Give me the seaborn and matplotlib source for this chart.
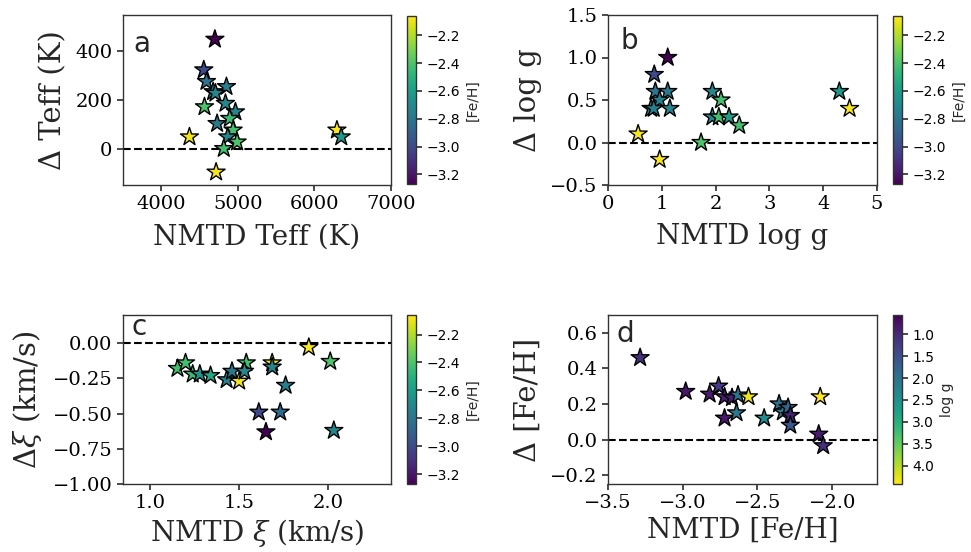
import numpy as np
import pandas as pd
import matplotlib
matplotlib.use("Agg")
import matplotlib.pyplot as plt
import seaborn as sns
from matplotlib.colors import Normalize
from matplotlib.cm import ScalarMappable

# ---- Panel a: NMTD Teff vs Delta Teff, colour = [Fe/H]
teff_nmtd = [4700, 4555, 4590, 4677, 4851, 4707, 4564, 4838, 4968, 4894,
             4729, 4938, 4868, 4990, 4816, 4368, 4716, 6294, 6350]
teff_delta = [450, 324, 276, 234, 255, 228, 172, 186, 151, 124,
              103, 76, 48, 27, 0, 48, -97, 76, 48]
teff_feh = [-3.27, -3.0, -2.8, -2.75, -2.75, -2.72, -2.4, -2.7, -2.72, -2.45,
            -2.78, -2.42, -2.7, -2.4, -2.42, -2.08, -2.08, -2.07, -2.63]

# ---- Panel b: NMTD log g vs Delta log g, colour = [Fe/H]
logg_nmtd = [1.11, 0.86, 0.88, 1.11, 0.96, 0.80, 0.85, 1.15, 0.56, 0.96,
             1.73, 1.94, 2.10, 1.94, 2.06, 2.25, 2.44, 4.30, 4.49]
logg_delta = [1.0, 0.8, 0.6, 0.6, 0.5, 0.4, 0.4, 0.4, 0.1, -0.2,
              0.0, 0.6, 0.5, 0.3, 0.3, 0.3, 0.2, 0.6, 0.4]
logg_feh = [-3.27, -3.0, -2.8, -2.78, -2.75, -2.72, -2.75, -2.72, -2.08, -2.07,
            -2.4, -2.7, -2.42, -2.72, -2.42, -2.6, -2.42, -2.63, -2.07]

# ---- Panel c: NMTD xi vs Delta xi, colour = [Fe/H]
xi_nmtd = [1.155, 1.20, 1.24, 1.28, 1.34, 1.43, 1.46, 1.50, 1.54, 1.53,
           1.685, 1.685, 1.76, 1.61, 1.73, 1.65, 1.89, 2.01, 2.03]
xi_delta = [-0.18, -0.14, -0.22, -0.22, -0.23, -0.26, -0.20, -0.27, -0.14, -0.20,
            -0.14, -0.17, -0.30, -0.49, -0.49, -0.63, -0.03, -0.13, -0.62]
xi_feh = [-2.42, -2.42, -2.45, -2.65, -2.55, -2.72, -2.78, -2.08, -2.42, -2.7,
          -2.08, -2.72, -2.75, -3.0, -2.85, -3.27, -2.07, -2.4, -2.72]

# ---- Panel d: NMTD [Fe/H] vs Delta [Fe/H], colour = log g
feh_nmtd = [-3.285, -2.98, -2.82, -2.76, -2.72, -2.72, -2.67, -2.63, -2.64, -2.56,
            -2.455, -2.355, -2.33, -2.295, -2.28, -2.28, -2.09, -2.06, -2.08]
feh_delta = [0.46, 0.27, 0.255, 0.30, 0.24, 0.12, 0.235, 0.25, 0.15, 0.24,
             0.12, 0.20, 0.155, 0.18, 0.135, 0.08, 0.03, -0.035, 0.24]
feh_logg = [1.1, 0.8, 0.85, 1.2, 0.9, 0.8, 0.85, 2.0, 2.1, 4.3,
            2.4, 1.95, 2.1, 1.9, 0.95, 1.6, 0.85, 1.1, 4.42]

feh_ticks = [-2.2, -2.4, -2.6, -2.8, -3.0, -3.2]
logg_ticks = [1.0, 1.5, 2.0, 2.5, 3.0, 3.5, 4.0]

sns.set_theme(style="ticks")
plt.rcParams["font.family"] = ["DejaVu Serif"]
plt.rcParams["mathtext.fontset"] = "dejavuserif"
plt.rcParams["axes.edgecolor"] = "#333333"
plt.rcParams["xtick.color"] = "#333333"
plt.rcParams["ytick.color"] = "#333333"
plt.rcParams["xtick.labelcolor"] = "black"
plt.rcParams["ytick.labelcolor"] = "black"
plt.rcParams["axes.linewidth"] = 1.0

W, H = 971, 552
fig = plt.figure(figsize=(W / 100, H / 100), dpi=100)


def box(x0, y0, x1, y1):
    return [x0 / W, 1 - y1 / H, (x1 - x0) / W, (y1 - y0) / H]


ax_a = fig.add_axes(box(123, 15, 391, 185))
ax_b = fig.add_axes(box(608, 15, 877, 185))
ax_c = fig.add_axes(box(123, 315, 391, 484))
ax_d = fig.add_axes(box(608, 315, 877, 484))
cax_a = fig.add_axes(box(407, 16, 416, 184))
cax_b = fig.add_axes(box(893, 16, 902, 184))
cax_c = fig.add_axes(box(407, 315, 416, 484))
cax_d = fig.add_axes(box(893, 315, 902, 484))

feh_norm = (-3.27, -2.06)
logg_norm = (0.56, 4.42)


def panel(ax, x, y, c, norm, letter, lx, ly, xlabel, ylabel, xpad):
    ax.axhline(0, ls="--", color="black", lw=1.5, zorder=1)
    df = pd.DataFrame({"x": x, "y": y, "c": c})
    sns.scatterplot(data=df, x="x", y="y", hue="c", palette="viridis",
                    hue_norm=norm, marker="*", s=185, edgecolor="black",
                    linewidth=1.0, legend=False, ax=ax, zorder=3)
    ax.text(lx, ly, letter, transform=ax.transAxes, fontsize=20,
            family="DejaVu Sans", va="baseline", ha="left")
    ax.set_xlabel(xlabel, fontsize=20, labelpad=xpad)
    ax.set_ylabel(ylabel, fontsize=21, labelpad=6)
    ax.tick_params(labelsize=14, length=4)


def cbar(cax, norm, ticks, label, invert=False):
    sm = ScalarMappable(norm=Normalize(*norm), cmap="viridis")
    cb = fig.colorbar(sm, cax=cax, ticks=ticks)
    cb.ax.tick_params(labelsize=10, length=4)
    for t in cb.ax.get_yticklabels():
        t.set_family("DejaVu Sans")
    cb.set_label(label, fontsize=10, family="DejaVu Sans")
    cb.outline.set_edgecolor("#333333")
    if invert:
        cb.ax.invert_yaxis()
    return cb


panel(ax_a, teff_nmtd, teff_delta, teff_feh, feh_norm, "a", 0.04, 0.78,
      "NMTD Teff (K)", "Δ Teff (K)", 7)
ax_a.set_xlim(3500, 7000)
ax_a.set_ylim(-150, 550)
ax_a.set_xticks([4000, 5000, 6000, 7000])
ax_a.set_yticks([0, 200, 400])

panel(ax_b, logg_nmtd, logg_delta, logg_feh, feh_norm, "b", 0.045, 0.80,
      "NMTD log g", "Δ log g", 7)
ax_b.set_xlim(0, 5)
ax_b.set_ylim(-0.5, 1.5)
ax_b.set_xticks([0, 1, 2, 3, 4, 5])
ax_b.set_yticks([-0.5, 0.0, 0.5, 1.0, 1.5])

panel(ax_c, xi_nmtd, xi_delta, xi_feh, feh_norm, "c", 0.03, 0.88,
      r"NMTD $\xi$ (km/s)", r"$\Delta\xi$ (km/s)", 3)
ax_c.set_xlim(0.85, 2.35)
ax_c.set_ylim(-1.0, 0.2)
ax_c.set_xticks([1.0, 1.5, 2.0])
ax_c.set_yticks([0.0, -0.25, -0.5, -0.75, -1.0])

panel(ax_d, feh_nmtd, feh_delta, feh_logg, logg_norm, "d", 0.03, 0.84,
      "NMTD [Fe/H]", "Δ [Fe/H]", 3)
ax_d.set_xlim(-3.5, -1.7)
ax_d.set_ylim(-0.25, 0.7)
ax_d.set_xticks([-3.5, -3.0, -2.5, -2.0])
ax_d.set_yticks([-0.2, 0.0, 0.2, 0.4, 0.6])

cbar(cax_a, feh_norm, feh_ticks, "[Fe/H]")
cbar(cax_b, feh_norm, feh_ticks, "[Fe/H]")
cbar(cax_c, feh_norm, feh_ticks, "[Fe/H]")
cbar(cax_d, logg_norm, logg_ticks, "log g", invert=True)

fig.savefig("out.png", dpi=100)
